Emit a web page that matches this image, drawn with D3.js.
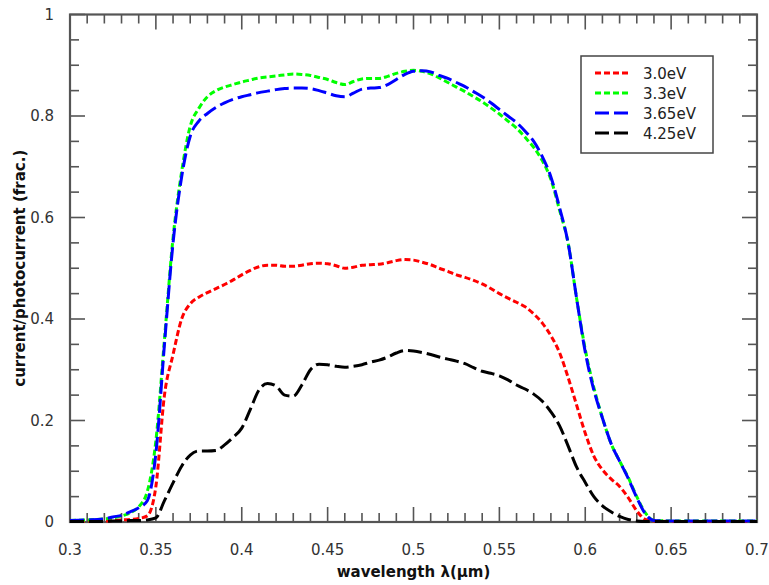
<!DOCTYPE html>
<html>
<head>
<meta charset="utf-8">
<script src="https://cdn.jsdelivr.net/npm/d3@7/dist/d3.min.js"></script>
<style>
  body { margin: 0; background: #fff; }
  svg { font-family: "DejaVu Sans", sans-serif; }
</style>
</head>
<body>
<div id="chart"></div>
<script>
// Wavelength grid (µm)
const wavelengths = [
  0.300, 0.310, 0.320, 0.325,
  0.330, 0.335, 0.340, 0.345, 0.350, 0.355, 0.360, 0.365, 0.370, 0.375,
  0.380, 0.385, 0.390, 0.395, 0.400, 0.405, 0.410, 0.415, 0.420, 0.425,
  0.430, 0.435, 0.440, 0.445, 0.450, 0.455, 0.460, 0.465, 0.470, 0.475,
  0.480, 0.485, 0.490, 0.495, 0.500, 0.505, 0.510, 0.515, 0.520, 0.525,
  0.530, 0.535, 0.540, 0.545, 0.550, 0.555, 0.560, 0.565, 0.570, 0.575,
  0.580, 0.585, 0.590, 0.595, 0.600, 0.605, 0.610, 0.615, 0.620, 0.625,
  0.630, 0.635, 0.640,
  0.650, 0.660, 0.670, 0.680, 0.690, 0.700
];

const ev300 = [
  0.001, 0.002, 0.002, 0.003,
  0.004, 0.005, 0.007, 0.012, 0.070, 0.250, 0.330, 0.400, 0.430, 0.443,
  0.452, 0.460, 0.468, 0.477, 0.487, 0.496, 0.503, 0.506, 0.506, 0.504,
  0.504, 0.506, 0.509, 0.510, 0.509, 0.505, 0.500, 0.502, 0.506, 0.507,
  0.508, 0.511, 0.515, 0.517, 0.516, 0.512, 0.507, 0.500, 0.494, 0.487,
  0.482, 0.476, 0.469, 0.460, 0.450, 0.441, 0.433, 0.424, 0.410, 0.392,
  0.367, 0.334, 0.285, 0.230, 0.175, 0.130, 0.103, 0.085, 0.070, 0.048,
  0.022, 0.005, 0.002,
  0.001, 0.001, 0.001, 0.001, 0.001, 0.001
];

const ev330 = [
  0.003, 0.004, 0.006, 0.008,
  0.012, 0.018, 0.030, 0.060, 0.160, 0.360, 0.560, 0.690, 0.780, 0.815,
  0.838, 0.850, 0.857, 0.862, 0.867, 0.871, 0.875, 0.877, 0.879, 0.881,
  0.883, 0.882, 0.880, 0.876, 0.872, 0.866, 0.862, 0.868, 0.873, 0.874,
  0.874, 0.878, 0.884, 0.888, 0.890, 0.888, 0.883, 0.875, 0.866, 0.857,
  0.848, 0.838, 0.828, 0.816, 0.804, 0.790, 0.776, 0.758, 0.738, 0.712,
  0.675, 0.615, 0.550, 0.440, 0.340, 0.265, 0.205, 0.155, 0.120, 0.088,
  0.050, 0.018, 0.003,
  0.002, 0.002, 0.002, 0.002, 0.002, 0.002
];

const ev365 = [
  0.003, 0.004, 0.006, 0.010,
  0.013, 0.020, 0.028, 0.042, 0.135, 0.350, 0.550, 0.680, 0.760, 0.790,
  0.805, 0.817, 0.826, 0.833, 0.838, 0.842, 0.846, 0.849, 0.852, 0.854,
  0.855, 0.855, 0.854, 0.850, 0.845, 0.840, 0.838, 0.845, 0.853, 0.855,
  0.856, 0.862, 0.872, 0.882, 0.888, 0.889, 0.887, 0.880, 0.874, 0.866,
  0.858, 0.848, 0.838, 0.826, 0.813, 0.800, 0.787, 0.770, 0.750, 0.720,
  0.680, 0.620, 0.550, 0.440, 0.335, 0.260, 0.205, 0.155, 0.120, 0.086,
  0.048, 0.016, 0.003,
  0.002, 0.002, 0.002, 0.002, 0.002, 0.002
];

const ev425 = [
  0.001, 0.001, 0.001, 0.002,
  0.002, 0.003, 0.003, 0.004, 0.008, 0.042, 0.077, 0.110, 0.132, 0.140,
  0.140, 0.141, 0.152, 0.167, 0.185, 0.222, 0.260, 0.273, 0.268, 0.250,
  0.248, 0.270, 0.300, 0.311, 0.310, 0.307, 0.305, 0.307, 0.310, 0.315,
  0.319, 0.325, 0.333, 0.338, 0.337, 0.334, 0.330, 0.325, 0.321, 0.317,
  0.312, 0.304, 0.297, 0.293, 0.288, 0.280, 0.270, 0.262, 0.252, 0.238,
  0.217, 0.190, 0.150, 0.108, 0.078, 0.050, 0.032, 0.020, 0.011, 0.005,
  0.002, 0.001, 0.001,
  0.001, 0.001, 0.001, 0.001, 0.001, 0.001
];

const seriesNames = ["3.0eV", "3.3eV", "3.65eV", "4.25eV"];
const seriesValues = [ev300, ev330, ev365, ev425];
const seriesColors = ["#ff0000", "#00ff00", "#0000ff", "#000000"];
const seriesDashes = ["6,3", "6,3", "14,5", "14,5"];

const xTicks = [0.3, 0.35, 0.4, 0.45, 0.5, 0.55, 0.6, 0.65, 0.7];
const yTicks = [0, 0.2, 0.4, 0.6, 0.8, 1];

const width = 769, height = 585;
const plot = { left: 70, right: 757, top: 14.5, bottom: 522 };
const axisColor = "#555";

const svg = d3.select("#chart").append("svg")
  .attr("width", width)
  .attr("height", height);

const x = d3.scaleLinear().domain([0.3, 0.7]).range([plot.left, plot.right]);
const y = d3.scaleLinear().domain([0, 1]).range([plot.bottom, plot.top]);

// Minor + major ticks (inward), on all four sides
const xMinor = d3.range(0, 41).map(i => 0.3 + i * 0.01);
const yMinor = d3.range(0, 21).map(i => i * 0.05);
const isMajorX = v => xTicks.some(t => Math.abs(t - v) < 1e-6);
const isMajorY = v => yTicks.some(t => Math.abs(t - v) < 1e-6);

const ticks = svg.append("g")
  .attr("stroke", axisColor)
  .attr("stroke-width", 1.6);

xMinor.forEach(v => {
  const len = isMajorX(v) ? 15 : 9;
  ticks.append("line")
    .attr("x1", x(v)).attr("x2", x(v))
    .attr("y1", plot.bottom).attr("y2", plot.bottom - len);
  ticks.append("line")
    .attr("x1", x(v)).attr("x2", x(v))
    .attr("y1", plot.top).attr("y2", plot.top + len);
});

yMinor.forEach(v => {
  const len = isMajorY(v) ? 15 : 9;
  ticks.append("line")
    .attr("x1", plot.left).attr("x2", plot.left + len)
    .attr("y1", y(v)).attr("y2", y(v));
  ticks.append("line")
    .attr("x1", plot.right).attr("x2", plot.right - len)
    .attr("y1", y(v)).attr("y2", y(v));
});

// Frame
svg.append("rect")
  .attr("x", plot.left)
  .attr("y", plot.top)
  .attr("width", plot.right - plot.left)
  .attr("height", plot.bottom - plot.top)
  .attr("fill", "none")
  .attr("stroke", axisColor)
  .attr("stroke-width", 2.2);

// Tick labels
svg.append("g")
  .selectAll("text")
  .data(xTicks)
  .join("text")
  .attr("x", d => x(d))
  .attr("y", plot.bottom + 33)
  .attr("text-anchor", "middle")
  .attr("font-size", "15px")
  .attr("fill", "#333")
  .text(d => d3.format("")(d));

svg.append("g")
  .selectAll("text")
  .data(yTicks)
  .join("text")
  .attr("x", 54)
  .attr("y", d => y(d) + 5)
  .attr("text-anchor", "end")
  .attr("font-size", "15px")
  .attr("fill", "#333")
  .text(d => d3.format("")(d));

// Axis titles
svg.append("text")
  .attr("x", (plot.left + plot.right) / 2)
  .attr("y", 577)
  .attr("text-anchor", "middle")
  .attr("font-size", "15px")
  .attr("font-weight", "bold")
  .attr("fill", "#111")
  .text("wavelength λ(μm)");

svg.append("text")
  .attr("transform", `translate(25,${(plot.top + plot.bottom) / 2}) rotate(-90)`)
  .attr("text-anchor", "middle")
  .attr("font-size", "15px")
  .attr("font-weight", "bold")
  .attr("fill", "#111")
  .text("current/photocurrent (frac.)");

// Curves
const line = d3.line()
  .x((d, i) => x(wavelengths[i]))
  .y(d => y(d))
  .curve(d3.curveMonotoneX);

svg.append("g")
  .selectAll("path")
  .data(seriesValues)
  .join("path")
  .attr("d", d => line(d))
  .attr("fill", "none")
  .attr("stroke", (d, i) => seriesColors[i])
  .attr("stroke-width", 3)
  .attr("stroke-dasharray", (d, i) => seriesDashes[i]);

// Legend
const legend = svg.append("g").attr("transform", "translate(581,56)");
legend.append("rect")
  .attr("width", 132)
  .attr("height", 97)
  .attr("fill", "#fff")
  .attr("stroke", "#444")
  .attr("stroke-width", 1.5);

const item = legend.selectAll("g.item")
  .data(seriesNames)
  .join("g")
  .attr("class", "item")
  .attr("transform", (d, i) => `translate(0,${17 + i * 20})`);

item.append("line")
  .attr("x1", 14).attr("x2", 48)
  .attr("stroke", (d, i) => seriesColors[i])
  .attr("stroke-width", 3)
  .attr("stroke-dasharray", (d, i) => seriesDashes[i]);

item.append("text")
  .attr("x", 62)
  .attr("y", 6)
  .attr("font-size", "15px")
  .attr("fill", "#222")
  .text(d => d);
</script>
</body>
</html>
